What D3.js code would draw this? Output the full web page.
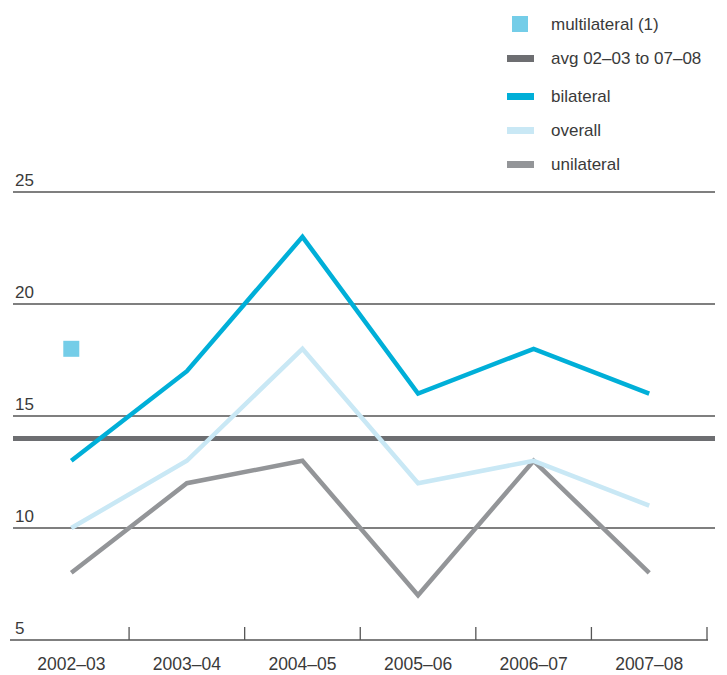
<!DOCTYPE html>
<html><head><meta charset="utf-8">
<script src="https://cdn.jsdelivr.net/npm/d3@7"></script>
<style>body{margin:0;background:#fff}svg{display:block}text{font-family:"Liberation Sans",Arial,sans-serif;fill:#3a3a3a}</style>
</head><body>
<script>
const categories = ["2002–03","2003–04","2004–05","2005–06","2006–07","2007–08"];
const bilateral = [13,17,23,16,18,16];
const overall = [10,13,18,12,13,11];
const unilateral = [8,12,13,7,13,8];
const multilateral = [18,null,null,null,null,null];
const average = 14;
const yTicks = [5,10,15,20,25];
const legendItems = [
  {label:"multilateral (1)", type:"square", color:"#74cde8"},
  {label:"avg 02–03 to 07–08", type:"line", color:"#6d6e71"},
  {label:"bilateral", type:"line", color:"#00afd8"},
  {label:"overall", type:"line", color:"#c9e8f5"},
  {label:"unilateral", type:"line", color:"#939598"}
];

const W=727,H=675;
const svg=d3.select("body").append("svg").attr("width",W).attr("height",H);
const x=d3.scaleBand().domain(categories).range([13.5,707]);
const y=d3.scaleLinear().domain([5,25]).range([640,192]);
const cx=d=>x(d)+x.bandwidth()/2;

// gridlines
svg.append("g").selectAll("line").data(yTicks.filter(d=>d>5)).join("line")
  .attr("x1",13).attr("x2",715).attr("y1",d=>y(d)).attr("y2",d=>y(d))
  .attr("stroke","#555").attr("stroke-width",1.5);
svg.append("g").selectAll("text").data(yTicks).join("text")
  .attr("x",15).attr("y",d=>y(d)-6).attr("font-size",17).text(d=>d);

// x axis
const xa=svg.append("g").attr("transform","translate(0,640)")
  .call(d3.axisBottom(x).tickSize(0).tickPadding(18));
xa.select(".domain").attr("d","M10,0H708").attr("stroke","#555").attr("stroke-width",1.5);
xa.selectAll("text").attr("font-size",17.5).attr("fill","#3a3a3a").style("font-family","'Liberation Sans',Arial,sans-serif");
svg.append("g").selectAll("line").data(categories).join("line")
  .attr("x1",d=>x(d)+x.bandwidth()).attr("x2",d=>x(d)+x.bandwidth())
  .attr("y1",627).attr("y2",640).attr("stroke","#555").attr("stroke-width",1.3);

// average line
svg.append("line").attr("x1",13).attr("x2",715).attr("y1",y(average)).attr("y2",y(average))
  .attr("stroke","#6d6e71").attr("stroke-width",5);

const line=d3.line().x((d,i)=>cx(categories[i])).y(d=>y(d));
[[unilateral,"#939598"],[overall,"#c9e8f5"],[bilateral,"#00afd8"]].forEach(([s,c])=>{
  svg.append("path").datum(s).attr("d",line).attr("fill","none").attr("stroke",c).attr("stroke-width",4.5);
});

// multilateral squares
svg.append("g").selectAll("rect").data(multilateral.map((v,i)=>({v,c:categories[i]})).filter(d=>d.v!=null)).join("rect")
  .attr("x",d=>cx(d.c)-8).attr("y",d=>y(d.v)-8).attr("width",16).attr("height",16).attr("fill","#74cde8");

// legend
const ly=[24,58,96,130,164];
const lg=svg.append("g").selectAll("g").data(legendItems).join("g")
  .attr("transform",(d,i)=>`translate(0,${ly[i]})`);
lg.each(function(d){
  const g=d3.select(this);
  if(d.type==="square") g.append("rect").attr("x",512).attr("y",-8).attr("width",16).attr("height",16).attr("fill",d.color);
  else g.append("rect").attr("x",507).attr("y",-3).attr("width",27).attr("height",7).attr("fill",d.color);
  g.append("text").attr("x",551).attr("y",6).attr("font-size",17).text(d.label);
});
</script>
</body></html>
